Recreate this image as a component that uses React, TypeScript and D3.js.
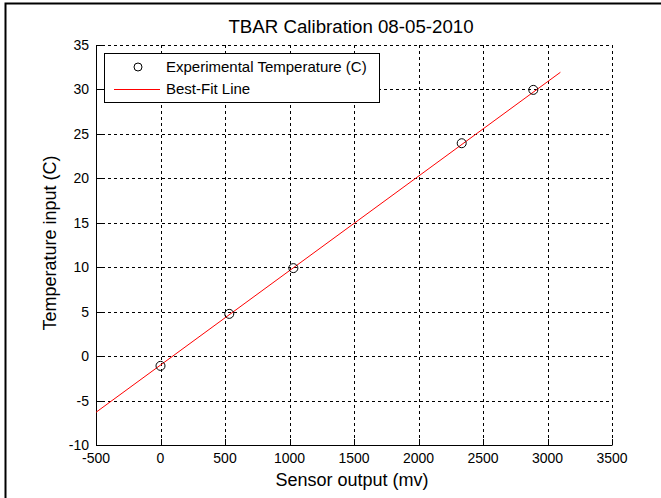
import { useEffect, useRef } from "react";
import * as d3 from "d3";

// TBAR calibration chart, MATLAB-style look: dashed grid, solid left/bottom axes.

const W = 661;
const H = 498;
const PLOT = { left: 96, right: 612, top: 45, bottom: 445 };
const FONT = "'Liberation Sans', Arial, Helvetica, sans-serif";

const sensorMv = [0, 533, 1030, 2335, 2890];
const tempC = [-1.1, 4.75, 9.9, 23.95, 29.95];
const fitMv = [-500, 3100];
const fitC = [-6.32, 31.93];
const xTicks = [-500, 0, 500, 1000, 1500, 2000, 2500, 3000, 3500];
const yTicks = [-10, -5, 0, 5, 10, 15, 20, 25, 30, 35];
const legendLabels = ["Experimental Temperature (C)", "Best-Fit Line"];

export default function App() {
  const svgRef = useRef<SVGSVGElement>(null);

  useEffect(() => {
    const svg = d3.select(svgRef.current);
    svg.selectAll("*").remove();

    const x = d3.scaleLinear().domain([-500, 3500]).range([PLOT.left, PLOT.right]);
    const y = d3.scaleLinear().domain([-10, 35]).range([PLOT.bottom, PLOT.top]);

    svg.append("rect").attr("width", W).attr("height", H).attr("fill", "#fff");

    // outer frame (only top/left visible in the screenshot)
    svg.append("path")
      .attr("d", `M5.5,${H} V3.5 H${W}`)
      .attr("fill", "none")
      .attr("stroke", "#000")
      .attr("stroke-width", 2);

    // grid
    const grid = svg.append("g")
      .attr("stroke", "#000")
      .attr("stroke-width", 1)
      .attr("stroke-dasharray", "3,3");
    grid.selectAll("line.gx")
      .data(xTicks.filter((d) => d !== -500))
      .join("line")
      .attr("x1", (d) => Math.round(x(d)) + 0.5)
      .attr("x2", (d) => Math.round(x(d)) + 0.5)
      .attr("y1", PLOT.top)
      .attr("y2", PLOT.bottom);
    grid.selectAll("line.gy")
      .data(yTicks.filter((d) => d !== -10))
      .join("line")
      .attr("y1", (d) => Math.round(y(d)) + 0.5)
      .attr("y2", (d) => Math.round(y(d)) + 0.5)
      .attr("x1", PLOT.left)
      .attr("x2", PLOT.right);

    // axes (ticks inward)
    const axes = svg.append("g").attr("stroke", "#000").attr("stroke-width", 1);
    axes.append("path")
      .attr("d", `M${PLOT.left + 0.5},${PLOT.top} V${PLOT.bottom + 0.5} H${PLOT.right + 0.5}`)
      .attr("fill", "none");
    axes.selectAll("line.tx")
      .data(xTicks)
      .join("line")
      .attr("x1", (d) => Math.round(x(d)) + 0.5)
      .attr("x2", (d) => Math.round(x(d)) + 0.5)
      .attr("y1", PLOT.bottom)
      .attr("y2", PLOT.bottom - 6);
    axes.append("g").selectAll("line")
      .data(yTicks)
      .join("line")
      .attr("y1", (d) => Math.round(y(d)) + 0.5)
      .attr("y2", (d) => Math.round(y(d)) + 0.5)
      .attr("x1", PLOT.left)
      .attr("x2", PLOT.left + 6);

    // tick labels
    svg.append("g").selectAll("text")
      .data(xTicks)
      .join("text")
      .attr("x", (d) => x(d))
      .attr("y", 463)
      .attr("text-anchor", "middle")
      .attr("font-family", FONT)
      .attr("font-size", 14)
      .text((d) => String(d));
    svg.append("g").selectAll("text")
      .data(yTicks)
      .join("text")
      .attr("x", PLOT.left - 7)
      .attr("y", (d) => y(d))
      .attr("dy", "0.36em")
      .attr("text-anchor", "end")
      .attr("font-family", FONT)
      .attr("font-size", 14)
      .text((d) => String(d));

    // best-fit line
    const line = d3.line<number>()
      .x((d) => x(d))
      .y((_, i) => y(fitC[i]));
    svg.append("path")
      .datum(fitMv)
      .attr("fill", "none")
      .attr("stroke", "#ff0000")
      .attr("stroke-width", 1)
      .attr("d", line);

    // experimental points
    svg.append("g").selectAll("circle")
      .data(sensorMv)
      .join("circle")
      .attr("cx", (d) => x(d))
      .attr("cy", (_, i) => y(tempC[i]))
      .attr("r", 4.5)
      .attr("fill", "none")
      .attr("stroke", "#000")
      .attr("stroke-width", 1);

    // legend
    const lg = svg.append("g");
    lg.append("rect")
      .attr("x", 104.5)
      .attr("y", 53.5)
      .attr("width", 275)
      .attr("height", 49)
      .attr("fill", "#fff")
      .attr("stroke", "#000")
      .attr("stroke-width", 1);
    lg.append("circle")
      .attr("cx", 138)
      .attr("cy", 67)
      .attr("r", 4)
      .attr("fill", "none")
      .attr("stroke", "#000");
    lg.append("line")
      .attr("x1", 114)
      .attr("x2", 160)
      .attr("y1", 89.5)
      .attr("y2", 89.5)
      .attr("stroke", "#ff0000");
    lg.selectAll("text")
      .data(legendLabels)
      .join("text")
      .attr("x", 166)
      .attr("y", (_, i) => 72 + i * 22)
      .attr("font-family", FONT)
      .attr("font-size", 15)
      .text((d) => d);

    // title + axis labels
    svg.append("text")
      .attr("x", 351)
      .attr("y", 33)
      .attr("text-anchor", "middle")
      .attr("font-family", FONT)
      .attr("font-size", 18.7)
      .text("TBAR Calibration 08-05-2010");
    svg.append("text")
      .attr("x", 352)
      .attr("y", 486)
      .attr("text-anchor", "middle")
      .attr("font-family", FONT)
      .attr("font-size", 18)
      .text("Sensor output (mv)");
    svg.append("text")
      .attr("transform", `translate(56,243) rotate(-90)`)
      .attr("text-anchor", "middle")
      .attr("font-family", FONT)
      .attr("font-size", 18)
      .text("Temperature input (C)");
  }, []);

  return (
    <svg
      ref={svgRef}
      width={W}
      height={H}
      style={{ position: "absolute", left: 0, top: 0 }}
      role="img"
      aria-label="TBAR Calibration 08-05-2010"
    />
  );
}
